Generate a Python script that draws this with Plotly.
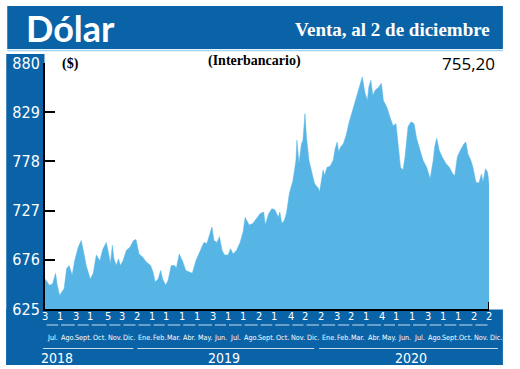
import plotly.graph_objects as go
import pandas as pd

# ---------------- data ----------------
dates = [
    "2018-07-03", "2018-07-12", "2018-07-18", "2018-07-24", "2018-07-27",
    "2018-08-01", "2018-08-07", "2018-08-10", "2018-08-15", "2018-08-20", "2018-08-26", "2018-08-31",
    "2018-09-07", "2018-09-13", "2018-09-17", "2018-09-23",
    "2018-10-01", "2018-10-07", "2018-10-13", "2018-10-20", "2018-10-26", "2018-11-02",
    "2018-11-07", "2018-11-10", "2018-11-14", "2018-11-17", "2018-11-22", "2018-11-26", "2018-11-30",
    "2018-12-05", "2018-12-12", "2018-12-19", "2018-12-26", "2018-12-31",
    "2019-01-06", "2019-01-13", "2019-01-20", "2019-01-29",
    "2019-02-03", "2019-02-07", "2019-02-13", "2019-02-18", "2019-02-22", "2019-02-28",
    "2019-03-05", "2019-03-11", "2019-03-18", "2019-03-21", "2019-03-27",
    "2019-04-03", "2019-04-09", "2019-04-17", "2019-04-22", "2019-04-29",
    "2019-05-07", "2019-05-15", "2019-05-21", "2019-05-26", "2019-05-31",
    "2019-06-04", "2019-06-10", "2019-06-15", "2019-06-20", "2019-06-25",
    "2019-07-02", "2019-07-07", "2019-07-12", "2019-07-19", "2019-07-26",
    "2019-08-01", "2019-08-05", "2019-08-13", "2019-08-20", "2019-08-28",
    "2019-09-04", "2019-09-11", "2019-09-14", "2019-09-21", "2019-09-27",
    "2019-10-03", "2019-10-10", "2019-10-13", "2019-10-17", "2019-10-22", "2019-10-26", "2019-10-29",
    "2019-11-01", "2019-11-08", "2019-11-14", "2019-11-16", "2019-11-20", "2019-11-25", "2019-11-28",
    "2019-12-02", "2019-12-05", "2019-12-10", "2019-12-15", "2019-12-21", "2019-12-24", "2019-12-29", "2019-12-31",
    "2020-01-07", "2020-01-10", "2020-01-15", "2020-01-21", "2020-01-27", "2020-01-31",
    "2020-02-04", "2020-02-07", "2020-02-11", "2020-02-16", "2020-02-22", "2020-02-27",
    "2020-03-05", "2020-03-13", "2020-03-19", "2020-03-25", "2020-03-30",
    "2020-04-04", "2020-04-07", "2020-04-11", "2020-04-15", "2020-04-20", "2020-04-27", "2020-05-02",
    "2020-05-06", "2020-05-13", "2020-05-19", "2020-05-25", "2020-05-31",
    "2020-06-04", "2020-06-09", "2020-06-14", "2020-06-18", "2020-06-24", "2020-06-30",
    "2020-07-06", "2020-07-11", "2020-07-17", "2020-07-24", "2020-07-31",
    "2020-08-07", "2020-08-13", "2020-08-16", "2020-08-20", "2020-08-25", "2020-08-31",
    "2020-09-07", "2020-09-14", "2020-09-21", "2020-09-25", "2020-09-30",
    "2020-10-06", "2020-10-13", "2020-10-17", "2020-10-21", "2020-10-27", "2020-10-31",
    "2020-11-06", "2020-11-12", "2020-11-17", "2020-11-20", "2020-11-25", "2020-11-29", "2020-12-02",
]
values = [
    656, 649.5, 651, 662, 651,
    639, 644, 646, 667, 670, 660, 675,
    689, 696, 686, 670,
    656, 662, 681, 675, 687, 694,
    681, 672, 691, 677, 670, 677, 670,
    675, 686, 689, 696, 697,
    682, 679, 674, 670,
    663, 653, 656, 665, 656, 649.5,
    655, 670, 670, 667, 682,
    674, 665, 663, 662, 675,
    684, 694, 693, 701, 710,
    696, 694, 700, 686, 681,
    681, 687.5, 682, 686, 694,
    705, 720, 712, 713.5, 719,
    724, 725.5, 712, 724, 729,
    728, 720, 725.5, 713.5, 717, 724, 734,
    745, 758, 779, 800, 776, 796, 800,
    827.5, 803, 779, 769, 755, 753, 750, 746,
    769, 763.5, 772, 773, 779, 791,
    798, 788, 793, 796, 805, 817,
    829, 845, 855, 865.5, 850,
    841, 855, 862, 846.5, 852, 855, 859,
    841, 834, 824, 815, 817,
    795, 772, 769, 782.5, 814, 819,
    817, 802, 791, 779, 772,
    760, 779, 793, 802, 789.5, 782.5,
    776, 772, 765, 763.5, 782.5,
    789.5, 796, 798, 786, 779, 772,
    756.5, 755.6, 765, 756.5, 770.5, 767, 755.2,
]

y_ticks = [625, 676, 727, 778, 829, 880]

# first trading day of each month (year, month, day label)
month_years = [2018] * 6 + [2019] * 12 + [2020] * 12
month_nums = list(range(7, 13)) + list(range(1, 13)) + list(range(1, 13))
day_labels = ["3", "1", "3", "1", "5", "3",
              "2", "1", "1", "1", "1", "3", "1", "1", "2", "1", "4", "2",
              "2", "3", "2", "1", "4", "1", "1", "3", "1", "1", "2", "2"]
month_names = ["Jul.", "Ago.", "Sept.", "Oct.", "Nov.", "Dic.",
               "Ene.", "Feb.", "Mar.", "Abr.", "May.", "Jun.", "Jul.", "Ago.", "Sept.", "Oct.", "Nov.", "Dic.",
               "Ene.", "Feb.", "Mar.", "Abr.", "May.", "Jun.", "Jul.", "Ago.", "Sept.", "Oct.", "Nov.", "Dic."]
year_labels = ["2018", "2019", "2020"]

title = "Dólar"
subtitle = "Venta, al 2 de diciembre"
last_value = "755,20"

# ---------------- styling ----------------
DARK = "#0b63a7"
AREA = "#57b5e6"
LINEC = "#c9dcee"
NARROW = "DejaVu Sans Condensed, Liberation Sans Narrow, sans-serif"
SERIF = "Liberation Serif, DejaVu Serif, serif"

W, H = 520, 369
L, R, T, B = 42, 31, 63, 60
PW = W - L - R
PH = H - T - B


def px(x):
    return (x - L) / PW


def py(y):
    return (H - B - y) / PH


# pixel layout of the bottom band (positions only)
YEAR_LABEL_X = [54, 222, 410]
YEAR_LINE_X = [(40, 131), (135, 313), (318, 498)]

fig = go.Figure()
fig.add_trace(go.Scatter(
    x=pd.to_datetime(dates), y=values, mode="lines", fill="tozeroy",
    line=dict(color=AREA, width=0.5), fillcolor=AREA, hoverinfo="skip",
))

shapes = []
# banner
shapes.append(dict(type="rect", xref="paper", yref="paper", x0=px(4), x1=px(503), y0=py(49), y1=py(6),
                   fillcolor=DARK, line=dict(width=0), layer="below"))
shapes.append(dict(type="line", xref="paper", yref="paper", x0=px(4), x1=px(503), y0=py(50.5), y1=py(50.5),
                   line=dict(color="#9fd4f2", width=1.5), layer="below"))
# left strip
shapes.append(dict(type="rect", xref="paper", yref="paper", x0=px(3), x1=px(41.5), y0=py(365), y1=py(54),
                   fillcolor=DARK, line=dict(width=0), layer="below"))
# bottom band
shapes.append(dict(type="rect", xref="paper", yref="paper", x0=px(3), x1=px(503), y0=py(365), y1=py(309.5),
                   fillcolor=DARK, line=dict(width=0), layer="below"))
# end tick of x-axis
shapes.append(dict(type="line", xref="x", yref="paper", x0=dates[-1], x1=dates[-1], y0=py(309), y1=py(302),
                   line=dict(color="black", width=2)))

month_starts = pd.to_datetime([f"{y}-{m:02d}-{int(d):02d}" for y, m, d in zip(month_years, month_nums, day_labels)])
annotations = []
for i, start in enumerate(month_starts):
    annotations.append(dict(x=start, y=py(316), xref="x", yref="paper", text=day_labels[i], showarrow=False,
                            font=dict(family=NARROW, size=11, color="white"), xanchor="center", yanchor="middle"))
    mfont = dict(family=NARROW, size=7.2, color="white")
    if i + 1 < len(month_starts):
        end = month_starts[i + 1]
        mid = start + (end - start) / 2
        annotations.append(dict(x=mid, y=py(337.5), xref="x", yref="paper", text=month_names[i], showarrow=False,
                                font=mfont, xanchor="center", yanchor="middle"))
        shapes.append(dict(type="line", xref="x", yref="paper", x0=start + pd.Timedelta(days=3),
                           x1=end - pd.Timedelta(days=3), y0=py(325), y1=py(325),
                           line=dict(color=LINEC, width=1)))
    else:
        annotations.append(dict(x=px(496), y=py(337.5), xref="paper", yref="paper", text=month_names[i],
                                showarrow=False, font=mfont, xanchor="center", yanchor="middle"))

for lab, xl, (a, b) in zip(year_labels, YEAR_LABEL_X, YEAR_LINE_X):
    annotations.append(dict(x=px(xl), y=py(357.5), xref="paper", yref="paper", text=lab, showarrow=False,
                            font=dict(family=NARROW, size=14, color="white"), xanchor="center", yanchor="middle"))
    shapes.append(dict(type="line", xref="paper", yref="paper", x0=px(a), x1=px(b), y0=py(348.5), y1=py(348.5),
                       line=dict(color=LINEC, width=1)))

annotations += [
    dict(x=px(21), y=py(28), xref="paper", yref="paper", text=f"<b>{title}</b>", showarrow=False,
         font=dict(family="Lato, Open Sans, sans-serif", size=36, color="white"), xanchor="left", yanchor="middle"),
    dict(x=px(492), y=py(29.5), xref="paper", yref="paper", text=f"<b>{subtitle}</b>", showarrow=False,
         font=dict(family=SERIF, size=19, color="white"), xanchor="right", yanchor="middle"),
    dict(x=px(57), y=py(64), xref="paper", yref="paper", text="<b>($)</b>", showarrow=False,
         font=dict(family=SERIF, size=14, color="black"), xanchor="left", yanchor="middle"),
    dict(x=px(253), y=py(61), xref="paper", yref="paper", text="<b>(Interbancario)</b>", showarrow=False,
         font=dict(family=SERIF, size=14, color="black"), xanchor="center", yanchor="middle"),
    dict(x=px(497), y=py(63), xref="paper", yref="paper", text=last_value, showarrow=False,
         font=dict(family="Open Sans, sans-serif", size=17, color="black"), xanchor="right", yanchor="middle"),
]

fig.update_layout(
    width=W, height=H, margin=dict(l=L, r=R, t=T, b=B),
    paper_bgcolor="white", plot_bgcolor="white", showlegend=False,
    shapes=shapes, annotations=annotations,
    xaxis=dict(type="date", range=[dates[0], dates[-1]], showticklabels=False, ticks="",
               showgrid=False, zeroline=False, showline=True, linecolor="black", linewidth=2),
    yaxis=dict(range=[625, 880], tickvals=y_ticks, ticks="inside", ticklen=10, tickwidth=2,
               tickcolor="black", showgrid=False, zeroline=False, showline=True, linecolor="black",
               linewidth=2, tickfont=dict(family=NARROW, size=16, color="white")),
)

fig.write_html("out.html", config={"displayModeBar": False, "staticPlot": True},
               post_script="document.body.style.margin='0';document.body.style.overflow='hidden';")
